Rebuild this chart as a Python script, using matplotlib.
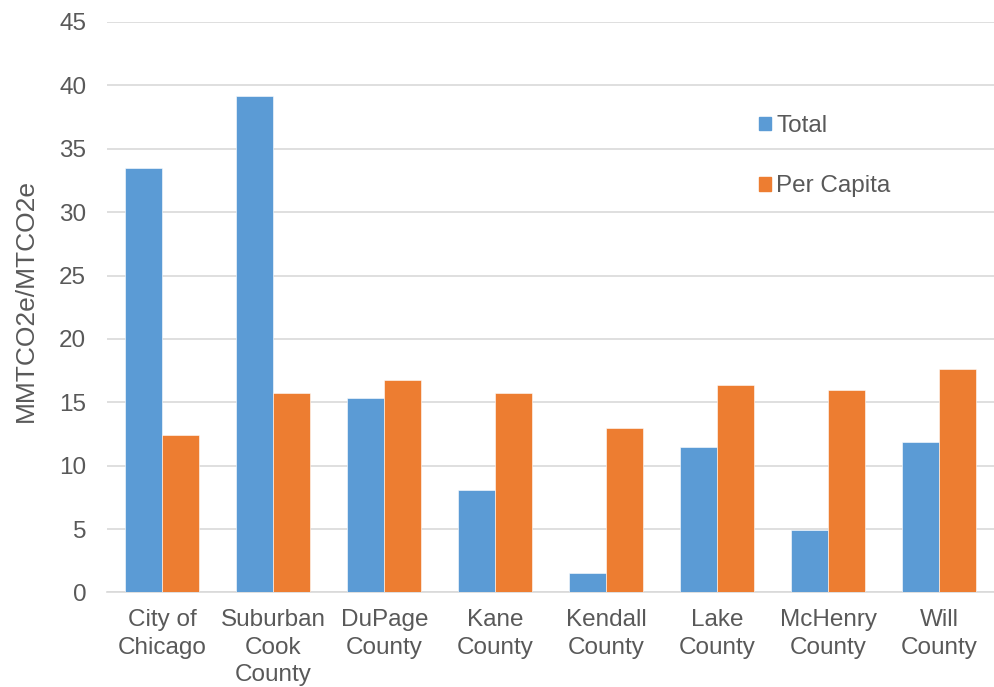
import matplotlib
matplotlib.use('Agg')
import matplotlib.pyplot as plt
from matplotlib.patches import Patch
import numpy as np

plt.rcParams['font.family'] = ['Liberation Sans', 'DejaVu Sans']

# data
categories = ['City of\nChicago', 'Suburban\nCook\nCounty', 'DuPage\nCounty', 'Kane\nCounty',
              'Kendall\nCounty', 'Lake\nCounty', 'McHenry\nCounty', 'Will\nCounty']
total = [33.5, 39.2, 15.35, 8.1, 1.5, 11.5, 4.9, 11.9]
per_capita = [12.45, 15.7, 16.75, 15.75, 12.95, 16.35, 15.95, 17.6]

blue = '#5B9BD5'
orange = '#ED7D31'
txt = '#595959'
grid = '#D9D9D9'
fs = 17.5

fig = plt.figure(figsize=(9.95, 6.87), dpi=100)
ax = fig.add_axes([0.1075, 0.1376, 0.8925, 0.8304])

x = np.arange(len(categories))
w = 1 / 3
ax.bar(x - w / 2, total, w, color=blue, edgecolor='white', linewidth=0.4, zorder=3)
ax.bar(x + w / 2, per_capita, w, color=orange, edgecolor='white', linewidth=0.4, zorder=3)

ax.set_xlim(-0.5, len(categories) - 0.5)
ax.set_ylim(0, 45)
ax.set_yticks(np.arange(0, 46, 5))
ax.set_xticks(x)
ax.set_xticklabels(categories, fontsize=fs, color=txt, linespacing=1.33)
ax.tick_params(axis='y', labelsize=fs, labelcolor=txt, length=0, pad=15)
ax.tick_params(axis='x', length=0, pad=12)
ax.yaxis.grid(True, color=grid, linewidth=1.2, zorder=0)
ax.set_axisbelow(True)
for s in ['top', 'right', 'left']:
    ax.spines[s].set_visible(False)
ax.spines['bottom'].set_color(grid)
ax.spines['bottom'].set_linewidth(1.2)

ax.set_ylabel('MMTCO2e/MTCO2e', fontsize=19, color=txt, labelpad=15)
ax.yaxis.label.set_y(0.512)

handles = [Patch(color=blue), Patch(color=orange)]
leg = fig.legend(handles, ['Total', 'Per Capita'], loc='upper left',
                 bbox_to_anchor=(747 / 995, 1 - 103 / 687), frameon=False,
                 fontsize=fs, handlelength=0.5, handleheight=0.5,
                 handletextpad=0.2, labelspacing=1.57, borderpad=0)
for t in leg.get_texts():
    t.set_color(txt)

plt.savefig('out.png', dpi=100)
